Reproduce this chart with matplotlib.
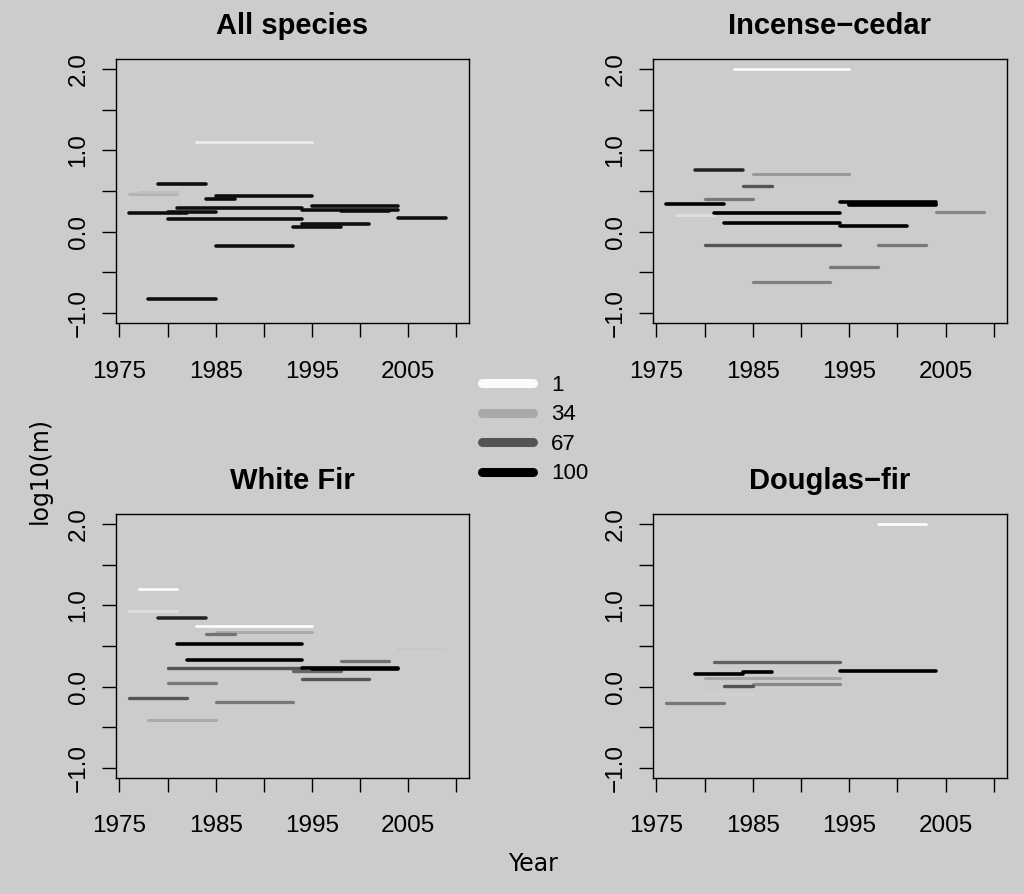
import matplotlib
matplotlib.use("Agg")
import matplotlib.pyplot as plt
from matplotlib.lines import Line2D

# segment data per species: start year, end year, log10(m), count (sets the grey level)
all_start = [1983, 1976, 1977, 1979, 1984, 1985, 1981, 1976, 1980, 1980, 1994, 1995, 1998, 2004, 1993, 1994, 1985, 1978]
all_end   = [1995, 1981, 1981, 1984, 1987, 1995, 1994, 1982, 1985, 1994, 2004, 2004, 2003, 2009, 1998, 2001, 1993, 1985]
all_value = [1.10, 0.46, 0.49, 0.59, 0.40, 0.44, 0.29, 0.225, 0.24, 0.156, 0.27, 0.31, 0.25, 0.17, 0.06, 0.094, -0.18, -0.82]
all_count = [8, 30, 25, 95, 95, 95, 95, 95, 95, 95, 95, 95, 95, 95, 95, 95, 95, 95]

ic_start = [1983, 1979, 1985, 1984, 1980, 1976, 1977, 1981, 1982, 1994, 1995, 1995, 2004, 1994, 1980, 1998, 1993, 1985]
ic_end   = [1995, 1984, 1995, 1987, 1985, 1982, 1981, 1994, 1994, 2004, 2004, 2004, 2009, 2001, 1994, 2003, 1998, 1993]
ic_value = [2.0, 0.76, 0.705, 0.56, 0.40, 0.344, 0.21, 0.234, 0.11, 0.36, 0.34, 0.33, 0.246, 0.07, -0.168, -0.168, -0.434, -0.62]
ic_count = [1, 87, 40, 67, 53, 100, 13, 100, 100, 100, 100, 100, 47, 100, 67, 53, 53, 50]

wf_start = [1977, 1976, 1979, 1983, 1985, 1984, 1981, 1982, 1980, 1993, 1994, 1995, 1998, 1994, 1980, 1976, 1985, 1978, 2004]
wf_end   = [1981, 1981, 1984, 1995, 1995, 1987, 1994, 1994, 1994, 1998, 2004, 2004, 2003, 2001, 1985, 1982, 1993, 1985, 2009]
wf_value = [1.205, 0.93, 0.844, 0.75, 0.672, 0.648, 0.52, 0.33, 0.225, 0.197, 0.23, 0.22, 0.32, 0.098, 0.049, -0.14, -0.184, -0.406, 0.46]
wf_count = [1, 13, 87, 1, 33, 55, 100, 100, 67, 60, 100, 100, 55, 67, 53, 67, 53, 33, 22]

df_start = [1998, 1981, 1979, 1984, 1994, 1980, 1983, 1985, 1982, 1980, 1976]
df_end   = [2003, 1994, 1984, 1987, 2004, 1994, 1995, 1994, 1985, 1985, 1982]
df_value = [2.0, 0.307, 0.156, 0.184, 0.193, 0.11, 0.0, 0.03, 0.008, -0.09, -0.197]
df_count = [1, 62, 100, 100, 100, 35, 20, 47, 67, 18, 53]

titles = ["All species", "Incense\u2212cedar", "White Fir", "Douglas\u2212fir"]
legend_counts = [1, 34, 67, 100]
x_ticks = [1975, 1980, 1985, 1990, 1995, 2000, 2005, 2010]
x_labels = ["1975", "", "1985", "", "1995", "", "2005", ""]
y_ticks = [-1.0, -0.5, 0.0, 0.5, 1.0, 1.5, 2.0]
y_labels = ["\u22121.0", "", "0.0", "", "1.0", "", "2.0"]

panels = [
    (all_start, all_end, all_value, all_count),
    (ic_start, ic_end, ic_value, ic_count),
    (wf_start, wf_end, wf_value, wf_count),
    (df_start, df_end, df_value, df_count),
]

BG = "#cccccc"
plt.rcParams["font.family"] = ["Liberation Sans", "DejaVu Sans"]


def grey(n):
    return str(max(0.0, min(1.0, 1 - n / 100)))


fig = plt.figure(figsize=(10.24, 8.94), dpi=100, facecolor=BG)

W, H = 1024, 894
boxes = [(116, 59, 469, 323), (653, 59, 1007, 323), (116, 514, 469, 778), (653, 514, 1007, 778)]

for (x0, y0, x1, y1), (s, e, v, c), title in zip(boxes, panels, titles):
    ax = fig.add_axes([x0 / W, 1 - y1 / H, (x1 - x0) / W, (y1 - y0) / H])
    ax.set_facecolor(BG)
    ax.hlines(v, s, e, colors=[grey(n) for n in c],
              linewidths=[2.0 + 0.6 * n / 100 for n in c], capstyle="round")
    ax.set_xlim(1974.64, 2011.36)
    ax.set_ylim(-1.12, 2.12)
    ax.set_xticks(x_ticks)
    ax.set_xticklabels(x_labels)
    ax.set_yticks(y_ticks)
    ax.set_yticklabels(y_labels, rotation=90, va="center")
    ax.tick_params(direction="out", length=10, width=1.0, labelsize=17.5, colors="black")
    ax.tick_params(axis="x", pad=17)
    ax.tick_params(axis="y", pad=9)
    for sp in ax.spines.values():
        sp.set_linewidth(1.0)
    ax.set_title(title, fontsize=21, fontweight="bold", pad=18)

handles = [Line2D([], [], color=grey(n), lw=6.5, solid_capstyle="round") for n in legend_counts]
fig.legend(handles, [str(n) for n in legend_counts], loc="upper left",
           bbox_to_anchor=(482 / W, 1 - 375 / H), frameon=False, borderpad=0,
           borderaxespad=0, handlelength=2.3, handletextpad=0.8, labelspacing=0.38,
           fontsize=16)

fig.text(533 / W, 1 - 864 / H, "Year", family="DejaVu Sans", fontsize=17,
         ha="center", va="center")
fig.text(40 / W, 1 - 470 / H, "log10(m)", family="DejaVu Sans", fontsize=17,
         rotation=90, ha="center", va="center")

fig.savefig("out.png", dpi=100, facecolor=BG)
